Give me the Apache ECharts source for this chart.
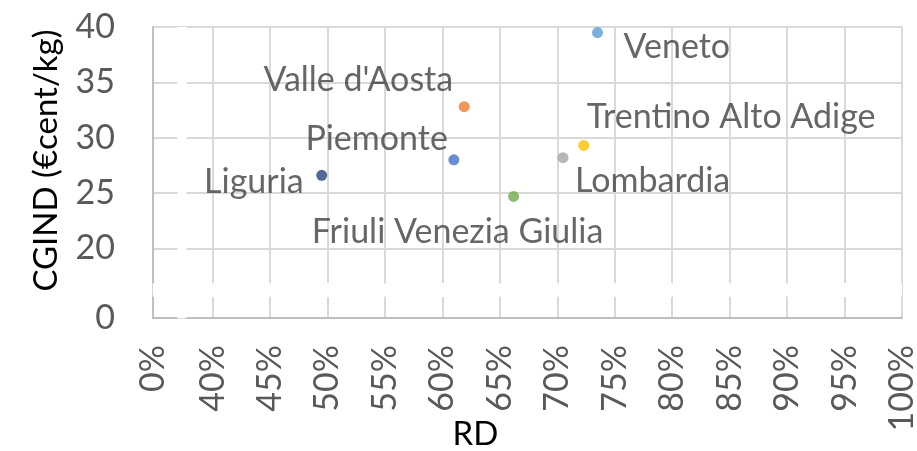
<!DOCTYPE html>
<html>
<head>
<meta charset="utf-8">
<script src="https://cdn.jsdelivr.net/npm/echarts@6/dist/echarts.min.js"></script>
<style>html,body{margin:0;padding:0;background:#fff}#c{width:917px;height:451px}</style>
</head>
<body>
<div id="c"></div>
<script>
const regions = ["Liguria","Piemonte","Valle d'Aosta","Friuli Venezia Giulia","Lombardia","Trentino Alto Adige","Veneto"];
const rdValues = [0.495, 0.610, 0.619, 0.662, 0.705, 0.723, 0.735];
const cgindValues = [26.6, 28.0, 32.8, 24.7, 28.2, 29.3, 39.5];
const pointColors = ["#264478","#4472C4","#ED7D31","#70AD47","#A5A5A5","#FFC000","#5B9BD5"];
const xTickValues = [0, 0.40, 0.45, 0.50, 0.55, 0.60, 0.65, 0.70, 0.75, 0.80, 0.85, 0.90, 0.95, 1.00];
const yTickValues = [0, 20, 25, 30, 35, 40];
// label placement (style): [align, dx, dy]
const labelPlacement = [
  ['right', -18, 7],
  ['right', -6, -21],
  ['right', -11, -27],
  ['center', -56, 36],
  ['left', 12, 23],
  ['left', 3, -28],
  ['left', 26, 14]
];
const FONT = 'Lato';
const FS = 34;

const data = regions.map((r, i) => ({
  name: r,
  value: [rdValues[i], cgindValues[i]],
  itemStyle: {color: pointColors[i]},
  label: {
    show: true, formatter: r, position: 'inside',
    align: labelPlacement[i][0], verticalAlign: 'middle',
    offset: [labelPlacement[i][1], labelPlacement[i][2]]
  }
}));

const xBreaks = [{start: 0.021, end: 0.377, gap: '1.2%'}];
const yBreaks = [{start: 2, end: 16.9, gap: '4.5%'}];

const chart = echarts.init(document.getElementById('c'), null, {renderer: 'canvas'});
const breakArea = {
  show: true,
  itemStyle: {color: '#ffffff', borderWidth: 1, borderColor: '#ffffff', opacity: 1},
  zigzagAmplitude: 0,
  zigzagZ: 100,
  expandOnClick: false
};
chart.setOption({
  animation: false,
  grid: {left: 153, right: 15, top: 27, bottom: 133, containLabel: false, outerBoundsMode: 'none'},
  xAxis: {
    type: 'value', min: 0, max: 1, interval: 0.05,
    breaks: xBreaks, breakArea: breakArea,
    name: 'RD', nameLocation: 'middle', nameGap: 100, nameMoveOverlap: false,
    nameTextStyle: {fontFamily: FONT, fontSize: 33, color: '#000', padding: [0, 104, 0, 0]},
    axisLine: {show: true, lineStyle: {color: '#bfbfbf', width: 2}},
    axisTick: {show: false, customValues: xTickValues},
    splitLine: {show: true, customValues: xTickValues, lineStyle: {color: '#d9d9d9', width: 2}},
    axisLabel: {customValues: xTickValues, rotate: 90, margin: 27, hideOverlap: false,
      fontFamily: FONT, fontSize: FS, color: '#595959', formatter: v => Math.round(v * 100) + '%'}
  },
  yAxis: {
    type: 'value', min: 0, max: 40, interval: 5,
    breaks: yBreaks, breakArea: breakArea,
    name: 'CGIND (€cent/kg)', nameLocation: 'middle', nameGap: 90, nameMoveOverlap: false,
    nameTextStyle: {fontFamily: FONT, fontSize: 33, color: '#000', padding: [0, 0, 0, 24]},
    axisLine: {show: true, lineStyle: {color: '#bfbfbf', width: 2}},
    axisTick: {show: false, customValues: yTickValues},
    splitLine: {show: true, customValues: yTickValues, lineStyle: {color: '#d9d9d9', width: 2}},
    axisLabel: {customValues: yTickValues, margin: 38, hideOverlap: false,
      fontFamily: FONT, fontSize: FS, color: '#595959', formatter: v => String(v)}
  },
  series: [{
    type: 'scatter', symbol: 'circle', symbolSize: 11, data: data,
    label: {fontFamily: FONT, fontSize: FS, color: '#404040'}, z: 5
  }]
});
</script>
</body>
</html>
